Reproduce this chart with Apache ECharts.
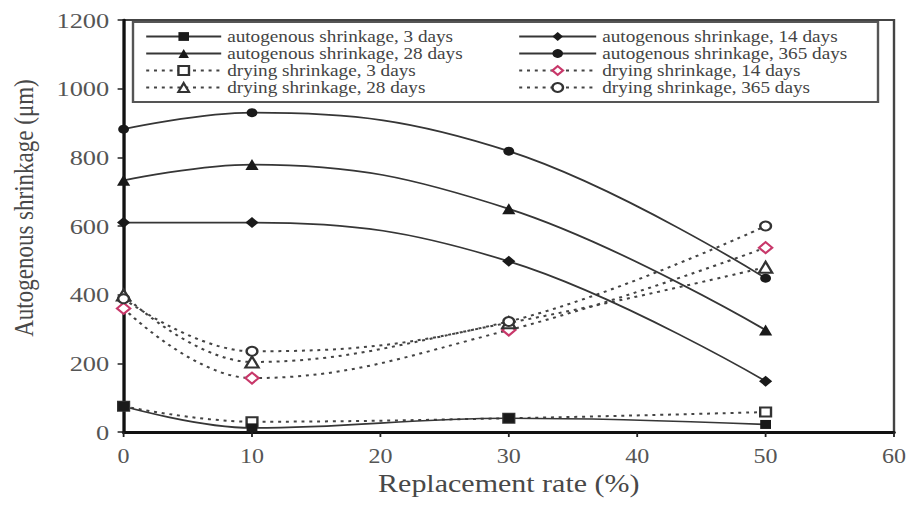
<!DOCTYPE html>
<html>
<head>
<meta charset="utf-8">
<script src="https://cdn.jsdelivr.net/npm/echarts@6/dist/echarts.min.js"></script>
<style>
  html, body { margin: 0; padding: 0; background: #fff; overflow: hidden; }
  /* the figure is drawn narrow and widened horizontally, like the printed plot */
  #chart { width: 757.5px; height: 510px; transform: scaleX(1.2); transform-origin: 0 0; }
</style>
</head>
<body>
<div id="chart"></div>
<script>
// Replacement rate (%) on the x axis
const rates = [0, 10, 30, 50];

// Autogenous shrinkage (µm)
const auto3   = [75, 12, 40, 22];
const auto14  = [610, 610, 497, 148];
const auto28  = [733, 779, 650, 297];
const auto365 = [882, 930, 818, 448];

// Drying shrinkage (µm)
const dry3   = [75, 30, 40, 58];
const dry14  = [360, 157, 297, 537];
const dry28  = [399, 204, 318, 480];
const dry365 = [388, 235, 322, 600];

const xTicks = [0, 10, 20, 30, 40, 50, 60];
const yTicks = [0, 200, 400, 600, 800, 1000, 1200];

const names = {
  a3: 'autogenous shrinkage, 3 days',
  a14: 'autogenous shrinkage, 14 days',
  a28: 'autogenous shrinkage, 28 days',
  a365: 'autogenous shrinkage, 365 days',
  d3: 'drying shrinkage, 3 days',
  d14: 'drying shrinkage, 14 days',
  d28: 'drying shrinkage, 28 days',
  d365: 'drying shrinkage, 365 days'
};

const S = 1.2;               // horizontal widening of the page
const px = v => v / S;       // page x-pixels -> chart x-pixels
const W = 909 / S;

const SERIF = "'Liberation Serif', 'Times New Roman', serif";
const LINE = '#363636';
const MARK = '#1a1a1a';

function pairs(vals) {
  return rates.map((r, i) => [r, vals[i]]);
}

function solid(name, vals, symbol, size) {
  return {
    name, type: 'line', data: pairs(vals), smooth: 0.4,
    symbol, symbolSize: size,
    lineStyle: { color: LINE, width: 1.7, type: 'solid' },
    itemStyle: { color: MARK, borderColor: MARK, borderWidth: 0 },
    z: 3
  };
}

function dotted(name, vals, symbol, size, markColor) {
  return {
    name, type: 'line', data: pairs(vals), smooth: 0.4,
    symbol, symbolSize: size,
    lineStyle: { color: '#444', width: 2, type: [2.5, 4] },
    itemStyle: { color: markColor || '#333', borderWidth: 1.4 },
    z: 2
  };
}

const legendText = { fontFamily: SERIF, fontSize: 16, color: '#444', lineHeight: 17 };

const option = {
  animation: false,
  backgroundColor: '#fff',
  grid: {
    left: px(121), right: W - px(895), top: 20, bottom: 78,
    show: true, borderColor: '#444', borderWidth: 2, backgroundColor: 'transparent'
  },
  xAxis: {
    type: 'value', min: xTicks[0], max: xTicks[xTicks.length - 1], interval: 10,
    name: 'Replacement rate (%)', nameLocation: 'middle', nameGap: 38,
    nameTextStyle: { fontFamily: SERIF, fontSize: 25, color: '#484848' },
    axisLine: { show: true, lineStyle: { color: '#111', width: 3 } },
    axisTick: { show: true, inside: false, length: 5, lineStyle: { color: '#222', width: 1.5 } },
    axisLabel: { fontFamily: SERIF, fontSize: 20, color: '#555', margin: 14,
      formatter: v => String(v) },
    splitLine: { show: false }
  },
  yAxis: {
    type: 'value', min: yTicks[0], max: yTicks[yTicks.length - 1], interval: 200,
    name: 'Autogenous shrinkage (μm)', nameLocation: 'middle', nameGap: 72, nameRotate: 90,
    nameTextStyle: { fontFamily: SERIF, fontSize: 23, color: '#484848', padding: [0, 0, 0, 36] },
    axisLine: { show: true, lineStyle: { color: '#111', width: 2.5 } },
    axisTick: { show: true, inside: false, length: 5, lineStyle: { color: '#222', width: 1.5 } },
    axisLabel: { fontFamily: SERIF, fontSize: 22, color: '#555', margin: 12,
      formatter: v => String(v) },
    splitLine: { show: false }
  },
  legend: [
    {
      orient: 'vertical', left: px(145), top: 28, padding: 0, itemGap: 0,
      itemWidth: px(75), itemHeight: 11, textStyle: legendText,
      data: [names.a3, names.a28, names.d3, names.d28]
    },
    {
      orient: 'vertical', left: px(518), top: 28, padding: 0, itemGap: 0,
      itemWidth: px(77), itemHeight: 11, textStyle: legendText,
      data: [names.a14, names.a365, names.d14, names.d365]
    }
  ],
  graphic: [
    {
      type: 'rect', z: 10, silent: true,
      shape: { x: px(133), y: 22, width: px(745), height: 80 },
      style: { fill: 'none', stroke: '#555', lineWidth: 2 }
    }
  ],
  series: [
    solid(names.a3, auto3, 'rect', 9),
    solid(names.a14, auto14, 'diamond', 11),
    solid(names.a28, auto28, 'triangle', 11),
    solid(names.a365, auto365, 'circle', 9),
    dotted(names.d3, dry3, 'emptyRect', 9),
    dotted(names.d14, dry14, 'emptyDiamond', 11, '#c8386a'),
    dotted(names.d28, dry28, 'emptyTriangle', 11),
    dotted(names.d365, dry365, 'emptyCircle', 9)
  ]
};

const chart = echarts.init(document.getElementById('chart'), null, { renderer: 'svg' });
chart.setOption(option);
</script>
</body>
</html>
